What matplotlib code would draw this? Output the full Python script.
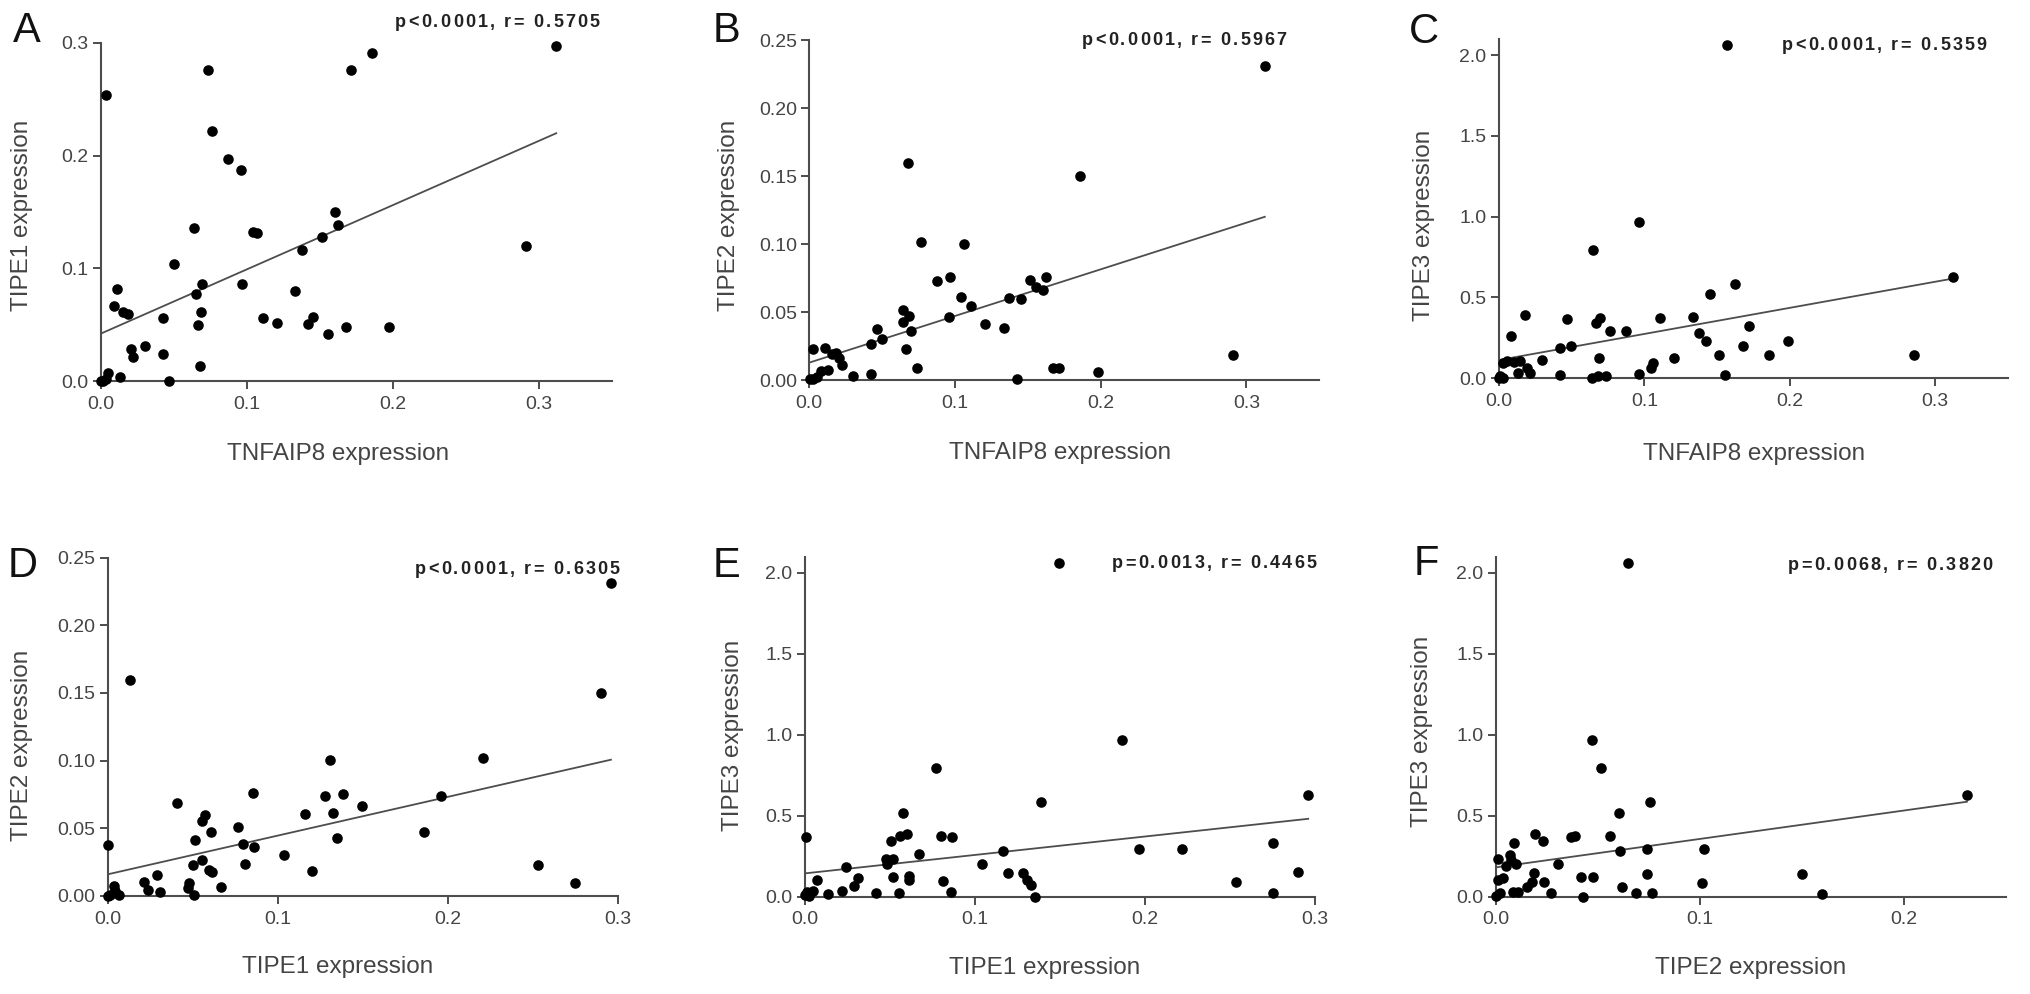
import matplotlib
matplotlib.use('Agg')
import matplotlib.pyplot as plt
from matplotlib.ticker import FormatStrFormatter
import numpy as np

# values
# A: TNFAIP8 vs TIPE1
a_x = [0.064, 0.050, 0.011, 0.009, 0.0155, 0.019, 0.0425, 0.065, 0.0696, 0.069, 0.0664, 0.0966,
       0.1046, 0.1068, 0.111, 0.1205, 0.133, 0.1377, 0.1422, 0.1452, 0.1514, 0.1605, 0.1623, 0.1555,
       0.168, 0.1975, 0.2913, 0.0205, 0.022, 0.0304, 0.043, 0.068, 0.047, 0.0132, 0.0053, 0.0037,
       0.0014, 0.0, 0.0036, 0.0737, 0.0764, 0.0874, 0.0961, 0.1712, 0.1856, 0.312]
a_y = [0.1355, 0.1038, 0.0813, 0.0668, 0.0609, 0.0595, 0.0556, 0.0772, 0.0861, 0.0609, 0.0497, 0.0858,
       0.1325, 0.131, 0.0559, 0.0518, 0.0799, 0.1162, 0.0506, 0.0571, 0.1281, 0.1497, 0.1384, 0.0414,
       0.0479, 0.0476, 0.1201, 0.0284, 0.0216, 0.0311, 0.0237, 0.0133, 0.0, 0.0038, 0.0068, 0.0015,
       0.0, 0.0, 0.2538, 0.276, 0.2218, 0.1967, 0.187, 0.276, 0.2913, 0.297]

# B: TNFAIP8 vs TIPE2
b_x = [0.0027, 0.0107, 0.0153, 0.0183, 0.0204, 0.0222, 0.0078, 0.013, 0.0005, 0.0027, 0.0055, 0.0302,
       0.0423, 0.0421, 0.0462, 0.0496, 0.064, 0.0645, 0.0686, 0.0695, 0.0661, 0.0736, 0.0764, 0.0874,
       0.0965, 0.0958, 0.1043, 0.1061, 0.1109, 0.1205, 0.1335, 0.1372, 0.1452, 0.1422, 0.1514, 0.1555,
       0.1605, 0.1621, 0.1674, 0.1715, 0.1978, 0.2909, 0.0677, 0.1858, 0.3126]
b_y = [0.0233, 0.024, 0.0194, 0.0199, 0.0162, 0.011, 0.0071, 0.0076, 0.0007, 0.0007, 0.0022, 0.0032,
       0.0049, 0.0267, 0.0375, 0.0306, 0.0431, 0.0517, 0.0473, 0.0365, 0.0228, 0.0088, 0.1017, 0.0733,
       0.0762, 0.0468, 0.0615, 0.1005, 0.0549, 0.0414, 0.0382, 0.0603, 0.0598, 0.0007, 0.0738, 0.0689,
       0.0664, 0.0757, 0.0093, 0.0088, 0.0061, 0.0186, 0.1596, 0.1502, 0.231]

# C: TNFAIP8 vs TIPE3
c_x = [0.0083, 0.0179, 0.003, 0.0057, 0.0103, 0.0144, 0.0195, 0.0213, 0.0133, 0.0007, 0.003, 0.0,
       0.0294, 0.042, 0.0493, 0.0466, 0.042, 0.0644, 0.0665, 0.0695, 0.0688, 0.0764, 0.0872, 0.0638,
       0.0679, 0.0734, 0.0963, 0.0963, 0.1046, 0.1062, 0.1108, 0.1204, 0.1337, 0.1372, 0.1424, 0.1452,
       0.1514, 0.1555, 0.1624, 0.1681, 0.1716, 0.186, 0.1984, 0.2851, 0.312, 0.1566]
c_y = [0.264, 0.39, 0.097, 0.107, 0.101, 0.107, 0.066, 0.035, 0.031, 0.014, 0.0, 0.002,
       0.113, 0.19, 0.202, 0.367, 0.021, 0.794, 0.344, 0.371, 0.128, 0.293, 0.295, 0.0,
       0.016, 0.016, 0.969, 0.027, 0.066, 0.093, 0.375, 0.124, 0.381, 0.282, 0.231, 0.52,
       0.142, 0.021, 0.584, 0.2, 0.326, 0.142, 0.233, 0.146, 0.625, 2.06]

# D: TIPE1 vs TIPE2
d_x = [0.0131, 0.0, 0.0037, 0.0, 0.0014, 0.0069, 0.0043, 0.0216, 0.0239, 0.0289, 0.0308, 0.041,
       0.0481, 0.0471, 0.0508, 0.0514, 0.05, 0.0553, 0.0553, 0.0573, 0.0593, 0.0612, 0.0608, 0.0667,
       0.0769, 0.0795, 0.0805, 0.0854, 0.0862, 0.1038, 0.1158, 0.1201, 0.128, 0.1309, 0.1325, 0.1348,
       0.1384, 0.1496, 0.1863, 0.1963, 0.2208, 0.2532, 0.275, 0.29, 0.296]
d_y = [0.1598, 0.0374, 0.0074, 0.0, 0.0007, 0.0007, 0.0039, 0.0106, 0.0044, 0.0155, 0.0032, 0.0684,
       0.0093, 0.0061, 0.0007, 0.0413, 0.0229, 0.0266, 0.0553, 0.0597, 0.0192, 0.018, 0.047, 0.0069,
       0.0511, 0.0381, 0.0236, 0.0762, 0.0364, 0.0305, 0.0602, 0.0184, 0.0738, 0.1003, 0.0615, 0.0425,
       0.0757, 0.0664, 0.047, 0.0738, 0.102, 0.0229, 0.0093, 0.1502, 0.231]

# E: TIPE1 vs TIPE3
e_x = [0.0006, 0.0, 0.001, 0.0045, 0.0073, 0.0025, 0.0137, 0.0216, 0.0241, 0.029, 0.0314, 0.0418,
       0.0476, 0.048, 0.0504, 0.0516, 0.0516, 0.0555, 0.0559, 0.0575, 0.0598, 0.0612, 0.0612, 0.0673,
       0.0771, 0.0798, 0.081, 0.0863, 0.0859, 0.1039, 0.1163, 0.1196, 0.1284, 0.1304, 0.1327, 0.1353,
       0.1386, 0.1863, 0.1965, 0.2216, 0.2535, 0.1496, 0.275, 0.275, 0.29, 0.296]
e_y = [0.366, 0.01, 0.031, 0.037, 0.103, 0.004, 0.016, 0.035, 0.185, 0.066, 0.113, 0.021,
       0.23, 0.202, 0.344, 0.23, 0.123, 0.021, 0.374, 0.519, 0.387, 0.128, 0.103, 0.263,
       0.794, 0.377, 0.097, 0.37, 0.027, 0.202, 0.282, 0.148, 0.144, 0.103, 0.072, 0.0,
       0.586, 0.967, 0.292, 0.292, 0.093, 2.058, 0.33, 0.02, 0.15, 0.625]

# F: TIPE2 vs TIPE3
f_x = [0.001, 0.0, 0.0021, 0.0013, 0.0038, 0.0051, 0.007, 0.0074, 0.0092, 0.01, 0.0083, 0.0111,
       0.0155, 0.0177, 0.0188, 0.0193, 0.0231, 0.0237, 0.027, 0.0307, 0.0368, 0.0389, 0.0417, 0.043,
       0.0476, 0.0474, 0.0515, 0.0558, 0.0602, 0.0607, 0.0618, 0.0687, 0.0741, 0.0744, 0.0757, 0.0765,
       0.1011, 0.1022, 0.1501, 0.1599, 0.0647, 0.231]
f_y = [0.233, 0.004, 0.021, 0.103, 0.113, 0.189, 0.257, 0.226, 0.329, 0.202, 0.031, 0.031,
       0.062, 0.093, 0.144, 0.387, 0.344, 0.093, 0.021, 0.202, 0.37, 0.374, 0.123, 0.0,
       0.123, 0.967, 0.792, 0.374, 0.519, 0.282, 0.062, 0.021, 0.292, 0.14, 0.582, 0.021,
       0.086, 0.292, 0.14, 0.014, 2.058, 0.625]

# regression lines (intercept, slope) as drawn in the figure
fits = [(0.042, 0.570), (0.013, 0.343), (0.113, 1.615),
        (0.016, 0.286), (0.144, 1.138), (0.181, 1.754)]

stats = ['p<0.0001, r= 0.5705', 'p<0.0001, r= 0.5967', 'p<0.0001, r= 0.5359',
         'p<0.0001, r= 0.6305', 'p=0.0013, r= 0.4465', 'p=0.0068, r= 0.3820']
letters = ['A', 'B', 'C', 'D', 'E', 'F']
xlabels = ['TNFAIP8 expression'] * 3 + ['TIPE1 expression', 'TIPE1 expression', 'TIPE2 expression']
ylabels = ['TIPE1 expression', 'TIPE2 expression', 'TIPE3 expression',
           'TIPE2 expression', 'TIPE3 expression', 'TIPE3 expression']

xs_all = [a_x, b_x, c_x, d_x, e_x, f_x]
ys_all = [a_y, b_y, c_y, d_y, e_y, f_y]

# layout, in pixels of the 2031x994 picture
W, H, DPI = 2031, 994, 100
boxes = [(100.7, 42.9, 611.7, 381.0), (809.3, 40.3, 1319.3, 380.3), (1499.0, 38.9, 2008.0, 378.3),
         (107.7, 557.5, 617.7, 896.0), (805.0, 556.5, 1315.0, 896.7), (1495.7, 556.5, 2005.7, 896.7)]
xlims = [0.35, 0.35, 0.35, 0.3, 0.3, 0.25]
ylims = [0.3, 0.25, 2.1, 0.25, 2.1, 2.1]
xticks = [[0, 0.1, 0.2, 0.3]] * 5 + [[0, 0.1, 0.2]]
yticks = [[0, 0.1, 0.2, 0.3], [0, 0.05, 0.1, 0.15, 0.2, 0.25], [0, 0.5, 1.0, 1.5, 2.0],
          [0, 0.05, 0.1, 0.15, 0.2, 0.25], [0, 0.5, 1.0, 1.5, 2.0], [0, 0.5, 1.0, 1.5, 2.0]]
yfmts = ['%.1f', '%.2f', '%.1f', '%.2f', '%.1f', '%.1f']
letter_pos = [(27, 42), (726, 42), (1424, 43), (23, 577), (727, 577), (1426, 575)]
stat_pos = [(395, 27), (1082, 45), (1782, 50), (415, 574), (1112, 568), (1788, 570)]
ylab_pos = [(-0.1546, 0.491), (-0.157, 0.486), (-0.148, 0.452),
            (-0.168, 0.446), (-0.141, 0.473), (-0.1445, 0.487)]
xlab_pos = [(0.465, -0.234), (0.491, -0.232), (0.502, -0.241),
            (0.45, -0.228), (0.47, -0.228), (0.5, -0.228)]

GREY = '#4d4d4d'
plt.rcParams['font.family'] = ['Liberation Sans', 'DejaVu Sans']

fig = plt.figure(figsize=(W / DPI, H / DPI), dpi=DPI)


def px_box(left, top, right, bottom):
    return [left / W, 1 - bottom / H, (right - left) / W, (bottom - top) / H]


def spaced_text(x, y, s, gap, size):
    # the stats line is letter-spaced in the original
    renderer = fig.canvas.get_renderer()
    for ch in s:
        if ch == ' ':
            x += 0.28 * size * DPI / 72 + gap
            continue
        t = fig.text(x / W, 1 - y / H, ch, fontsize=size, fontweight='bold',
                     color='#222222', ha='left', va='baseline')
        x += t.get_window_extent(renderer).width + gap


for i in range(6):
    ax = fig.add_axes(px_box(*boxes[i]))
    x = np.array(xs_all[i])
    y = np.array(ys_all[i])
    ax.scatter(x, y, s=58, c='black', linewidths=0, zorder=3, clip_on=False)
    b0, b1 = fits[i]
    lx = np.array([0, x.max()])
    ax.plot(lx, b0 + b1 * lx, color=GREY, lw=1.3, zorder=2)

    ax.set_xlim(0, xlims[i])
    ax.set_ylim(0, ylims[i])
    ax.set_xticks(xticks[i])
    ax.set_yticks(yticks[i])
    ax.xaxis.set_major_formatter(FormatStrFormatter('%.1f'))
    ax.yaxis.set_major_formatter(FormatStrFormatter(yfmts[i]))
    for side in ['top', 'right']:
        ax.spines[side].set_visible(False)
    for side in ['left', 'bottom']:
        ax.spines[side].set_linewidth(1.5)
        ax.spines[side].set_color(GREY)
    ax.tick_params(direction='out', length=5.5, width=1.4, color=GREY,
                   labelcolor='#444444', labelsize=14)
    ax.tick_params(axis='x', pad=5)
    ax.tick_params(axis='y', pad=3.5)
    ax.patch.set_alpha(0)

    ax.text(xlab_pos[i][0], xlab_pos[i][1], xlabels[i], transform=ax.transAxes,
            ha='center', va='baseline', fontsize=17.5, color='#444444')
    ax.text(ylab_pos[i][0], ylab_pos[i][1], ylabels[i], transform=ax.transAxes,
            ha='center', va='center', rotation=90, fontsize=17.5, color='#444444')

    lx_, ly_ = letter_pos[i]
    fig.text(lx_ / W, 1 - ly_ / H, letters[i], fontsize=30, color='#111111',
             ha='center', va='baseline')
    sx, sy = stat_pos[i]
    spaced_text(sx, sy, stats[i], 2.2, 13)

fig.savefig('out.png', dpi=DPI)
